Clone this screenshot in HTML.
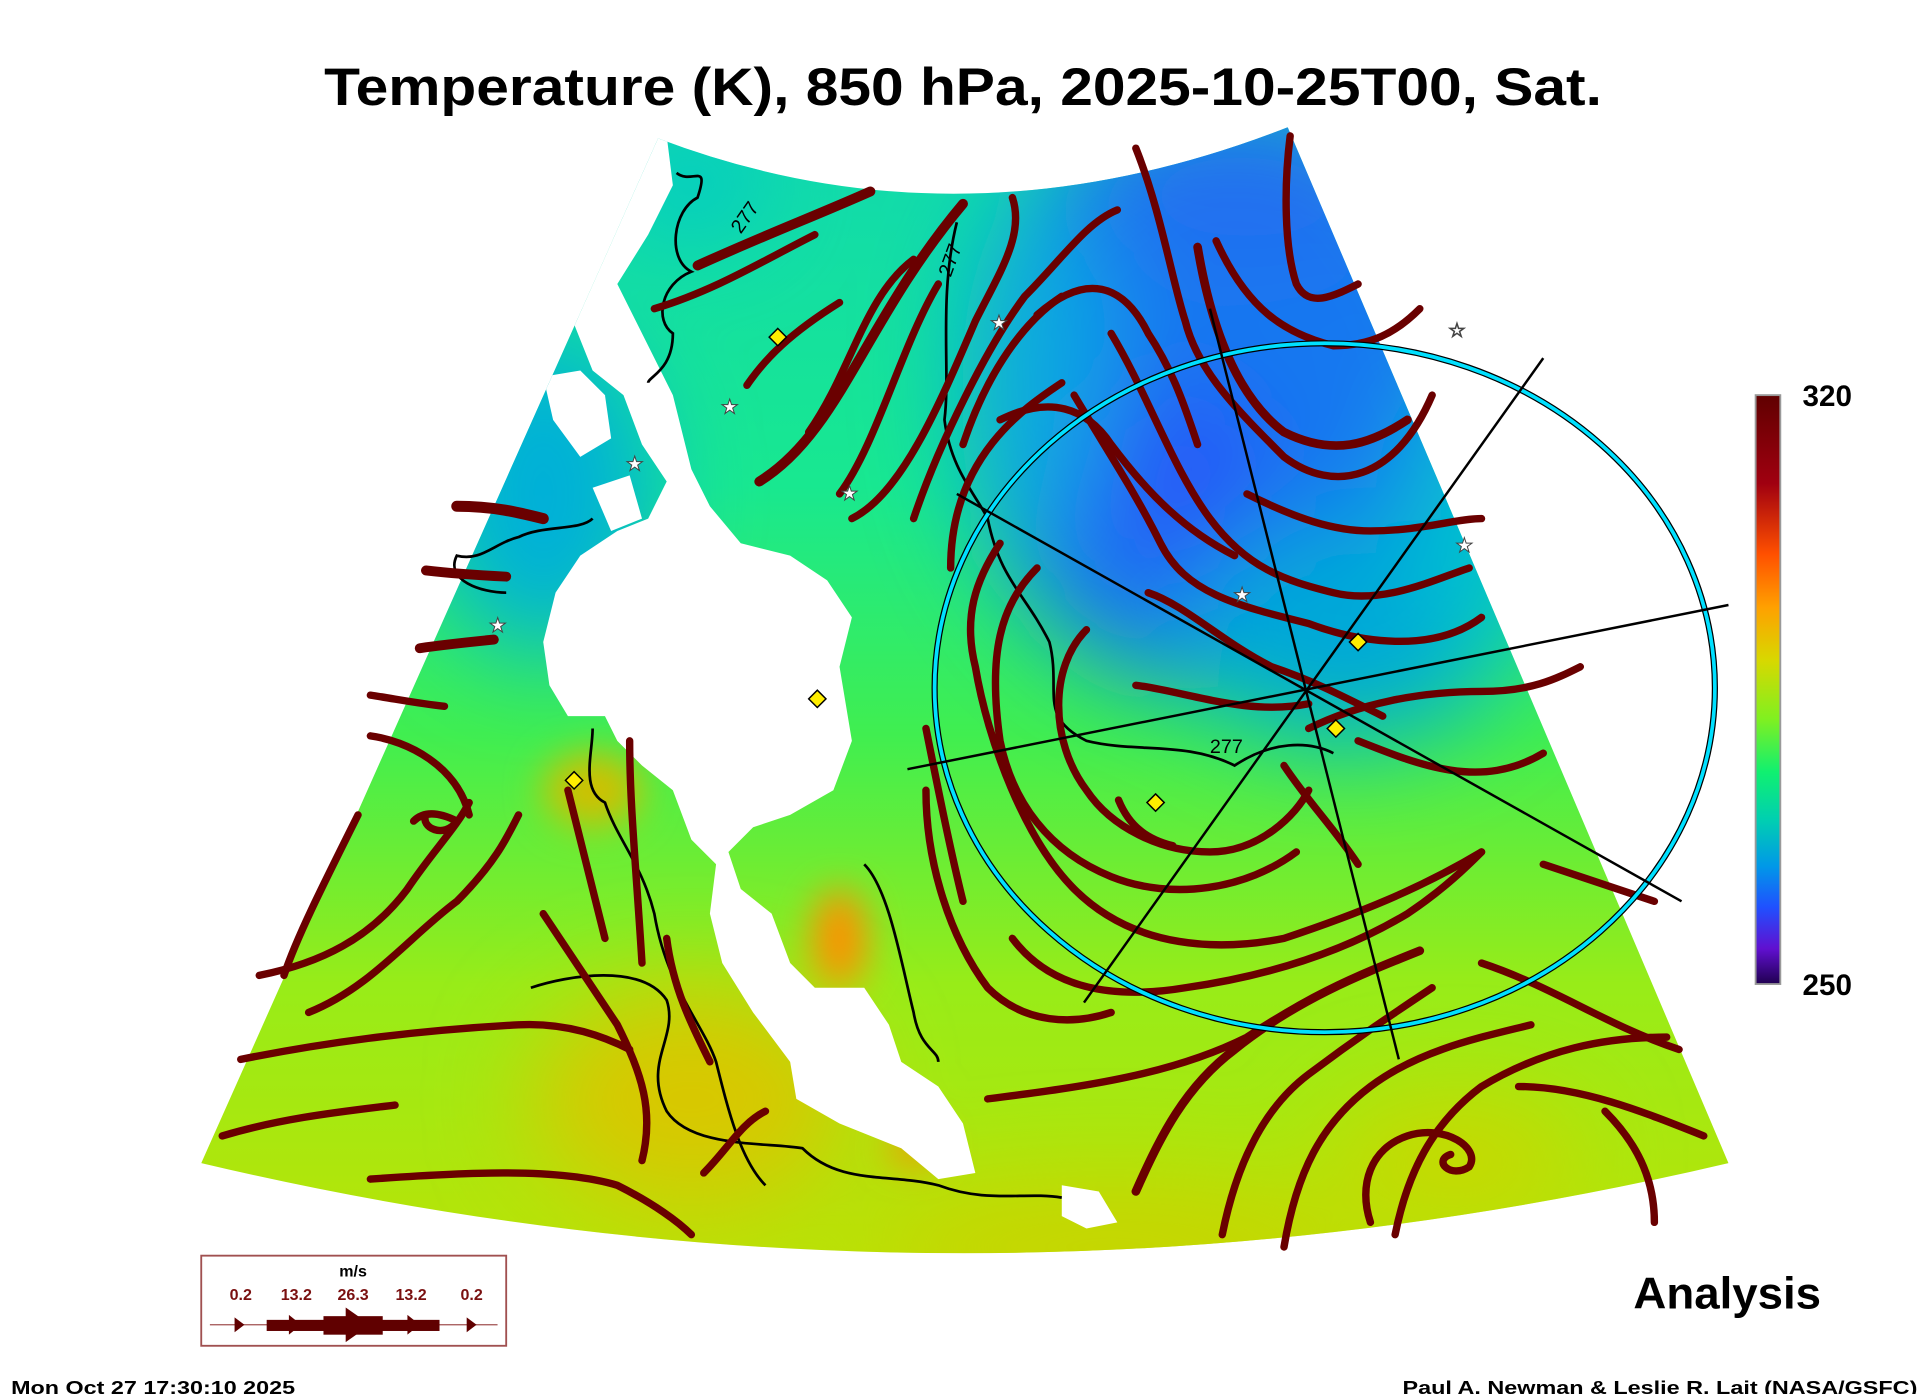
<!DOCTYPE html>
<html><head><meta charset="utf-8"><style>
html,body{margin:0;padding:0;background:#fff;}
svg{display:block;}
</style></head><body>
<svg width="1926" height="1394" viewBox="0 0 1560 1129" xmlns="http://www.w3.org/2000/svg" font-family="Liberation Sans, Arial, sans-serif">
<defs>
<clipPath id="w"><path d="M533,112 Q780,206 1043,103 L1400,942 Q780,1088 163,942 Z"/></clipPath>
<linearGradient id="base" x1="0" y1="0" x2="0" y2="1">
<stop offset="0" stop-color="#10d8b0"/>
<stop offset="0.3" stop-color="#18e890"/>
<stop offset="0.5" stop-color="#40ee50"/>
<stop offset="0.7" stop-color="#98ec18"/>
<stop offset="1" stop-color="#c4e000"/>
</linearGradient>
<filter id="b" x="-50%" y="-50%" width="200%" height="200%"><feGaussianBlur stdDeviation="40"/></filter>
<filter id="b2" x="-50%" y="-50%" width="200%" height="200%"><feGaussianBlur stdDeviation="15"/></filter>
<linearGradient id="cb" x1="0" y1="0" x2="0" y2="1">
<stop offset="0" stop-color="#600000"/>
<stop offset="0.15" stop-color="#a00010"/>
<stop offset="0.27" stop-color="#ff5000"/>
<stop offset="0.36" stop-color="#ffa000"/>
<stop offset="0.45" stop-color="#d8d800"/>
<stop offset="0.55" stop-color="#80f020"/>
<stop offset="0.64" stop-color="#10f070"/>
<stop offset="0.72" stop-color="#00d0b0"/>
<stop offset="0.8" stop-color="#0098e8"/>
<stop offset="0.87" stop-color="#2050ff"/>
<stop offset="0.94" stop-color="#6010d0"/>
<stop offset="1" stop-color="#200050"/>
</linearGradient>
</defs>
<text x="780" y="85" text-anchor="middle" font-size="43" font-weight="bold" textLength="1035" lengthAdjust="spacingAndGlyphs">Temperature (K), 850 hPa, 2025-10-25T00, Sat.</text>

<g clip-path="url(#w)">
<rect x="150" y="90" width="1270" height="1010" fill="url(#base)"/>
<g filter="url(#b)">
<ellipse cx="440" cy="400" rx="90" ry="130" fill="#00b0d8"/>
<ellipse cx="560" cy="150" rx="60" ry="40" fill="#00c8c8"/>
<ellipse cx="990" cy="320" rx="210" ry="240" fill="#1878f0"/>
<ellipse cx="1010" cy="150" rx="120" ry="70" fill="#2070f0"/>
<ellipse cx="950" cy="390" rx="80" ry="80" fill="#2858f8"/>
<ellipse cx="1090" cy="510" rx="130" ry="90" fill="#00a8d8"/>
<ellipse cx="1200" cy="420" rx="60" ry="120" fill="#00c0d0"/>
<ellipse cx="840" cy="300" rx="60" ry="140" fill="#10a8e0"/>
<ellipse cx="560" cy="890" rx="130" ry="90" fill="#d8c800"/>
<ellipse cx="900" cy="1010" rx="200" ry="50" fill="#c8d400"/>
<ellipse cx="1180" cy="940" rx="100" ry="50" fill="#c8d800"/>
</g>
<g filter="url(#b2)">
<ellipse cx="680" cy="760" rx="22" ry="40" fill="#ff9000"/>
<ellipse cx="740" cy="930" rx="20" ry="12" fill="#ff8800"/>
<ellipse cx="480" cy="640" rx="40" ry="30" fill="#d0c000"/>
</g>
<path fill="#fff" d="M470,110 L540,110 L545,150 L525,190 L500,230 L520,270 L545,320 L560,380 L575,410 L600,440 L640,450 L670,470 L690,500 L680,540 L690,600 L675,640 L640,660 L610,670 L590,690 L600,720 L625,740 L640,780 L660,800 L700,800 L720,830 L730,860 L760,880 L780,910 L790,950 L760,955 L730,930 L680,910 L645,890 L640,860 L610,820 L585,780 L575,740 L580,700 L560,680 L545,640 L520,620 L500,600 L490,580 L460,580 L445,555 L440,520 L450,480 L470,450 L500,430 L525,420 L540,390 L520,360 L505,320 L480,300 L460,250 L450,200 Z"/>
<path fill="#fff" d="M440,305 L470,300 L490,320 L495,355 L470,370 L448,340 Z"/>
<path fill="#fff" d="M480,395 L510,385 L520,420 L495,430 Z"/>
<path fill="#fff" d="M860,960 L890,965 L905,990 L880,995 L860,985 Z"/>
<path fill="#fff" d="M540,500 L560,500 L555,530 L540,520 Z"/>
</g>
<g fill="none" stroke="#000" stroke-width="2.2">
<path d="M548,140 C560,150 575,130 565,160 C545,170 540,210 560,220 C535,230 530,260 545,270 C545,300 525,305 525,310"/>
<path d="M775,180 C760,240 770,300 765,340 C770,380 790,400 800,420 C810,470 830,480 850,520 C860,560 840,580 880,600 C920,610 960,600 1000,620 C1030,600 1060,600 1080,610"/>
<path d="M480,420 C470,430 440,425 420,435 C400,440 390,455 370,450 C360,470 390,480 410,480"/>
<path d="M480,590 C480,610 470,640 490,650 C500,680 520,700 530,740 C540,800 570,830 580,860 C590,900 600,940 620,960"/>
<path d="M430,800 C460,790 520,780 540,810 C550,840 520,860 540,900 C560,930 620,925 650,930 C680,960 720,950 760,960 C800,975 830,965 860,970"/>
<path d="M700,700 C720,720 730,780 740,820 C745,850 760,850 760,860"/>
</g>
<text x="600" y="190" font-size="16" transform="rotate(-55 600 190)">277</text>
<text x="770" y="225" font-size="16" transform="rotate(-70 770 225)">277</text>
<text x="980" y="610" font-size="16">277</text>
<g fill="none" stroke="#6a0000" stroke-width="6" stroke-linecap="round">
<path d="M565,215 C620,190 660,175 705,155" stroke-width="8"/>
<path d="M530,250 C580,235 620,210 660,190"/>
<path d="M605,312 C620,290 640,270 680,245"/>
<path d="M615,390 C680,350 700,260 780,165" stroke-width="8"/>
<path d="M655,350 C690,300 700,240 740,210"/>
<path d="M680,400 C710,360 730,280 760,230"/>
<path d="M690,420 C730,400 760,330 790,260 C810,220 830,190 820,160"/>
<path d="M740,420 C760,360 800,280 830,240 C860,210 880,180 905,170"/>
<path d="M770,460 C770,370 830,330 860,310"/>
<path d="M780,360 C800,300 830,260 860,240"/>
<path d="M370,410 C400,410 420,415 440,420" stroke-width="9"/>
<path d="M345,462 C370,465 390,466 410,467" stroke-width="8"/>
<path d="M340,525 C360,522 380,520 400,518" stroke-width="8"/>
<path d="M300,563 C320,566 340,570 360,572"/>
<path d="M300,596 C330,600 370,620 380,660"/>
<path d="M335,665 C345,655 360,660 370,665 C360,680 340,670 345,660"/>
<path d="M210,790 C260,780 300,760 330,720 C350,690 370,670 380,650"/>
<path d="M250,820 C300,800 330,760 370,730 C400,700 410,680 420,660"/>
<path d="M195,858 C260,845 330,835 420,830 C460,828 490,840 510,850"/>
<path d="M230,790 C240,760 260,720 290,660"/>
<path d="M300,955 C370,950 450,945 500,960 C530,975 550,990 560,1000"/>
<path d="M180,920 C230,905 280,900 320,895"/>
<path d="M460,640 C470,680 480,720 490,760"/>
<path d="M510,600 C510,650 515,700 520,780"/>
<path d="M540,760 C545,800 560,830 575,860"/>
<path d="M440,740 C460,770 480,800 500,830 C520,870 530,900 520,940"/>
<path d="M570,950 C590,930 600,910 620,900"/>
<path d="M750,590 C760,640 770,690 780,730"/>
<path d="M810,340 C850,320 880,330 900,360 C930,400 960,430 1000,450"/>
<path d="M840,255 C880,220 910,230 930,270 C950,300 960,330 970,360"/>
<path d="M920,120 C940,170 950,230 960,260 C970,300 1000,330 1040,370 C1080,400 1130,390 1160,320"/>
<path d="M970,200 C980,260 1000,320 1040,350 C1080,370 1110,360 1140,340" stroke-width="7"/>
<path d="M985,195 C1010,250 1040,270 1080,280 C1110,280 1130,270 1150,250"/>
<path d="M1045,110 C1040,150 1040,200 1050,230 C1060,250 1080,240 1100,230"/>
<path d="M900,270 C930,320 950,380 980,420 C1010,460 1040,470 1080,480 C1120,490 1160,470 1190,460"/>
<path d="M870,320 C900,370 920,400 940,440 C960,480 1000,490 1060,505 C1100,520 1160,530 1200,500"/>
<path d="M1010,400 C1050,420 1080,430 1110,430 C1150,430 1180,420 1200,420"/>
<path d="M810,440 C790,470 780,500 790,540 C800,600 830,680 870,720 C920,770 990,770 1040,760 C1100,740 1150,720 1200,690"/>
<path d="M840,460 C810,490 800,530 810,600 C820,650 850,690 900,710 C950,730 1010,720 1050,690"/>
<path d="M880,510 C850,540 850,600 880,640 C900,670 940,690 980,690 C1020,690 1050,660 1060,640"/>
<path d="M930,480 C960,490 990,520 1030,540 C1060,550 1080,560 1120,580"/>
<path d="M920,555 C960,560 1010,580 1060,570"/>
<path d="M906,648 C915,670 930,680 950,685"/>
<path d="M1040,620 C1060,650 1080,670 1100,700"/>
<path d="M1100,600 C1150,620 1200,640 1250,610"/>
<path d="M1060,590 C1100,570 1150,560 1200,560 C1240,560 1260,550 1280,540"/>
<path d="M820,760 C850,800 900,810 960,800 C1030,790 1090,770 1140,740 C1170,720 1190,700 1200,690"/>
<path d="M750,640 C750,700 770,760 800,800 C830,830 870,830 900,820"/>
<path d="M800,890 C880,880 950,870 1010,840 C1040,820 1060,810 1070,805"/>
<path d="M920,965 C940,920 960,880 1000,850 C1050,810 1100,790 1150,770" stroke-width="7"/>
<path d="M990,1000 C1000,950 1020,900 1060,870 C1100,840 1130,820 1160,800"/>
<path d="M1040,1010 C1050,950 1070,910 1110,880 C1150,850 1200,840 1240,830"/>
<path d="M1130,1000 C1140,950 1160,910 1200,880 C1250,850 1300,840 1350,840"/>
<path d="M1110,990 C1100,960 1110,930 1140,920 C1170,910 1200,930 1190,945 C1175,955 1160,940 1175,935"/>
<path d="M1200,780 C1260,800 1300,830 1360,850"/>
<path d="M1250,700 C1280,710 1310,720 1340,730"/>
<path d="M1230,880 C1280,880 1330,900 1380,920"/>
<path d="M1300,900 C1330,930 1340,960 1340,990"/>
</g>
<ellipse cx="1073" cy="557" rx="316" ry="279" fill="none" stroke="#000" stroke-width="5"/>
<ellipse cx="1073" cy="557" rx="316" ry="279" fill="none" stroke="#00e0ff" stroke-width="3"/>
<g stroke="#000" stroke-width="2">
<line x1="980" y1="250" x2="1133" y2="858"/>
<line x1="1250" y1="290" x2="878" y2="812"/>
<line x1="1400" y1="490" x2="735" y2="623"/>
<line x1="775" y1="400" x2="1362" y2="730"/>
</g>
<g fill="#ffee00" stroke="#000" stroke-width="1.2">
<path d="M630,266 l7,7 l-7,7 l-7,-7z"/>
<path d="M662,559 l7,7 l-7,7 l-7,-7z"/>
<path d="M465,625 l7,7 l-7,7 l-7,-7z"/>
<path d="M1100,513 l7,7 l-7,7 l-7,-7z"/>
<path d="M1082,583 l7,7 l-7,7 l-7,-7z"/>
<path d="M936,643 l7,7 l-7,7 l-7,-7z"/>
</g>
<g fill="#fff" stroke="#444" stroke-width="0.8" font-size="16" text-anchor="middle">
<text x="809" y="267">★</text><text x="591" y="335">★</text><text x="688" y="405">★</text>
<text x="514" y="381">★</text><text x="403" y="512">★</text><text x="1186" y="447">★</text>
<text x="1180" y="273">☆</text><text x="1006" y="487">★</text>
</g>
<rect x="1422" y="320" width="20" height="477" fill="url(#cb)" stroke="#999" stroke-width="1.5"/>
<text x="1460" y="329" font-size="24" font-weight="bold">320</text>
<text x="1460" y="806" font-size="24" font-weight="bold">250</text>
<rect x="163" y="1017" width="247" height="73" fill="#fff" stroke="#a05050" stroke-width="1.5"/>
<text x="286" y="1034" font-size="13" font-weight="bold" text-anchor="middle">m/s</text>
<g font-size="13" font-weight="bold" fill="#7a1010" text-anchor="middle">
<text x="195" y="1053">0.2</text><text x="240" y="1053">13.2</text><text x="286" y="1053">26.3</text><text x="333" y="1053">13.2</text><text x="382" y="1053">0.2</text>
</g>
<line x1="170" y1="1073" x2="403" y2="1073" stroke="#a05050" stroke-width="1"/>
<g fill="#600000">
<rect x="216" y="1069" width="140" height="9"/>
<rect x="262" y="1066" width="48" height="15"/>
<path d="M190,1067 L198,1073 L190,1079Z M234,1065 L244,1073 L234,1081Z M280,1059 L300,1073 L280,1087Z M330,1065 L340,1073 L330,1081Z M378,1067 L386,1073 L378,1079Z"/>
</g>
<text x="1399" y="1060" font-size="36" font-weight="bold" text-anchor="middle" textLength="152" lengthAdjust="spacingAndGlyphs">Analysis</text>
<text x="9" y="1129" font-size="15" font-weight="bold" textLength="230" lengthAdjust="spacingAndGlyphs">Mon Oct 27 17:30:10 2025</text>
<text x="1553" y="1129" font-size="15" font-weight="bold" text-anchor="end" textLength="417" lengthAdjust="spacingAndGlyphs">Paul A. Newman &amp; Leslie R. Lait (NASA/GSFC)</text>
</svg>
</body></html>
